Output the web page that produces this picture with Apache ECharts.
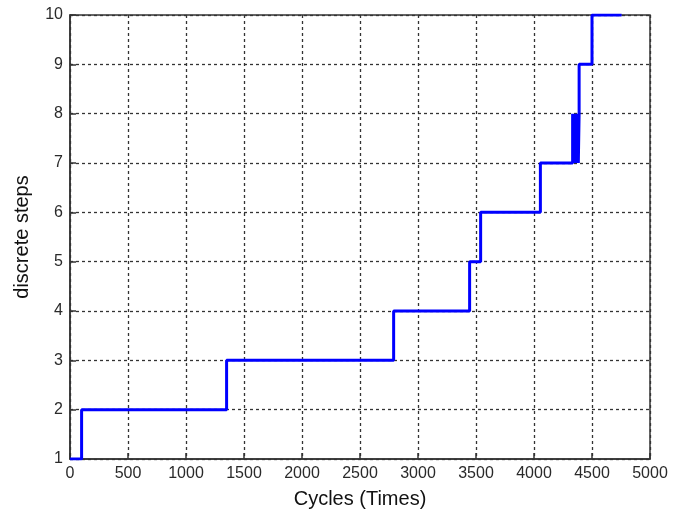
<!DOCTYPE html>
<html>
<head>
<meta charset="utf-8">
<script src="https://cdn.jsdelivr.net/npm/echarts@6/dist/echarts.min.js"></script>
<style>
  html, body { margin: 0; padding: 0; background: #fff; }
  #chart { width: 685px; height: 514px; }
</style>
</head>
<body>
<div id="chart"></div>
<script>
// Cycle count at which each step change happens, and the step reached there
const cycles = [0, 100, 1350, 2790, 3445, 3540, 4055,
                4333, 4340, 4347, 4354, 4361, 4368, 4375, 4382, 4389,
                4389, 4500, 4755];
const steps  = [1, 2, 3, 4, 5, 6, 7,
                8, 7, 8, 7, 8, 7, 8, 7, 8,
                9, 10, 10];

const xTicks = [0, 500, 1000, 1500, 2000, 2500, 3000, 3500, 4000, 4500, 5000];
const yTicks = [1, 2, 3, 4, 5, 6, 7, 8, 9, 10];

const points = cycles.map((c, i) => [c, steps[i]]);

const chart = echarts.init(document.getElementById('chart'), null, { renderer: 'canvas' });
const font = 'Liberation Sans, Arial, sans-serif';
const gridLine = { show: true, lineStyle: { color: '#333', type: [3, 3], width: 1.3 } };
const labelFont = { fontFamily: font, fontSize: 16, color: '#2a2a2a', formatter: v => String(v) };
const nameFont = { fontFamily: font, fontSize: 20, color: '#111' };
const axisTick = { show: true, inside: true, length: 6, lineStyle: { color: '#333', width: 1.5 } };

chart.setOption({
  animation: false,
  grid: { left: 70, right: 35, top: 15, bottom: 55, show: true, borderColor: '#333', borderWidth: 1.5, backgroundColor: '#fff' },
  xAxis: {
    type: 'value', min: xTicks[0], max: xTicks[xTicks.length - 1], interval: 500,
    name: 'Cycles (Times)', nameLocation: 'middle', nameGap: 30, nameTextStyle: nameFont,
    axisLine: { show: true, onZero: false, lineStyle: { color: '#333', width: 1.5 } },
    axisTick: axisTick,
    axisLabel: Object.assign({ margin: 7 }, labelFont),
    splitLine: gridLine
  },
  yAxis: {
    type: 'value', min: yTicks[0], max: yTicks[yTicks.length - 1], interval: 1,
    name: 'discrete steps', nameLocation: 'middle', nameGap: 38, nameRotate: 90, nameTextStyle: nameFont,
    axisLine: { show: true, onZero: false, lineStyle: { color: '#333', width: 1.5 } },
    axisTick: axisTick,
    axisLabel: Object.assign({ margin: 7 }, labelFont),
    splitLine: gridLine
  },
  series: [{
    type: 'line',
    data: points,
    step: 'end',
    showSymbol: false,
    lineStyle: { color: '#0000ff', width: 3 },
    clip: true
  }]
});
</script>
</body>
</html>
